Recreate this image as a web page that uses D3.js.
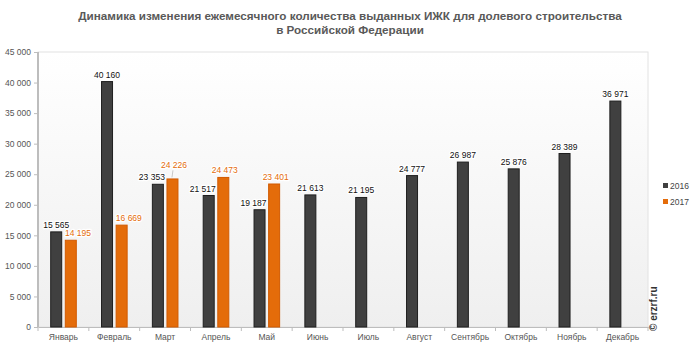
<!DOCTYPE html>
<html>
<head>
<meta charset="utf-8">
<script src="https://cdn.jsdelivr.net/npm/d3@7"></script>
<style>
  html, body { margin: 0; padding: 0; background: #fff; }
  svg { display: block; font-family: "Liberation Sans", Arial, sans-serif; }
</style>
</head>
<body>
<svg id="chart" width="700" height="350"></svg>
<script>
// Monthly number of housing mortgage loans for shared construction
const months = ["Январь", "Февраль", "Март", "Апрель", "Май", "Июнь",
                "Июль", "Август", "Сентябрь", "Октябрь", "Ноябрь", "Декабрь"];
const values2016 = [15565, 40160, 23353, 21517, 19187, 21613, 21195, 24777, 26987, 25876, 28389, 36971];
const values2017 = [14195, 16669, 24226, 24473, 23401];
const seriesNames = ["2016", "2017"];
const yTicks = [0, 5000, 10000, 15000, 20000, 25000, 30000, 35000, 40000, 45000];

const titleLines = ["Динамика изменения ежемесячного количества выданных ИЖК для долевого строительства",
                    "в Российской Федерации"];

const colors = { "2016": "#404040", "2017": "#e46c0a" };
const strokes = { "2016": "#1e1e1e", "2017": "#d25a00" };
const labelColors = { "2016": "#111111", "2017": "#e46c0a" };

const svg = d3.select("#chart");
const margin = { left: 38, right: 52, top: 52, bottom: 23 };
const W = 700, H = 350;
const innerW = W - margin.left - margin.right;
const innerH = H - margin.top - margin.bottom;

const fmt = v => d3.format(",")(v).replace(/,/g, " ");

// Plot background gradient
const defs = svg.append("defs");
const grad = defs.append("linearGradient").attr("id", "bg").attr("x1", 0).attr("y1", 0).attr("x2", 0).attr("y2", 1);
grad.append("stop").attr("offset", "0%").attr("stop-color", "#ffffff");
grad.append("stop").attr("offset", "100%").attr("stop-color", "#efefef");

// Title
svg.append("g").selectAll("text").data(titleLines).join("text")
  .attr("x", 350).attr("y", (d, i) => 20 + i * 14)
  .attr("text-anchor", "middle")
  .attr("font-size", "11.7px").attr("font-weight", "bold").attr("fill", "#595959")
  .text(d => d);

const g = svg.append("g").attr("transform", `translate(${margin.left},${margin.top})`);

const x = d3.scaleBand().domain(months).range([0, innerW]).padding(0);
const y = d3.scaleLinear().domain([0, 45000]).range([innerH, 0]);

g.append("rect").attr("x", 0).attr("y", 0).attr("width", innerW).attr("height", innerH)
  .attr("fill", "url(#bg)").attr("stroke", "#e2e2e2").attr("stroke-width", 1);

// Y axis
const yAxis = g.append("g").call(d3.axisLeft(y).tickValues(yTicks).tickFormat(fmt).tickSize(4).tickPadding(3));
yAxis.select(".domain").attr("stroke", "#bdbdbd").attr("stroke-width", 2).attr("d", `M0,0V${innerH}`);
yAxis.selectAll(".tick line").attr("stroke", "#bdbdbd");
yAxis.selectAll(".tick text").attr("font-size", "8.5px").attr("fill", "#555").attr("font-family", "Liberation Sans, Arial, sans-serif");

// X axis
const xAxis = g.append("g").attr("transform", `translate(0,${innerH})`)
  .call(d3.axisBottom(x).tickSize(0).tickPadding(7));
xAxis.select(".domain").attr("stroke", "#bdbdbd");
xAxis.selectAll(".tick text").attr("font-size", "8.5px").attr("fill", "#555").attr("font-family", "Liberation Sans, Arial, sans-serif");
// boundary ticks between months
g.append("g").selectAll("line").data(d3.range(months.length + 1)).join("line")
  .attr("x1", i => i * x.bandwidth()).attr("x2", i => i * x.bandwidth())
  .attr("y1", innerH).attr("y2", innerH + 4).attr("stroke", "#bdbdbd");

// Bars
const barW = 11;
const offsets = { "2016": 12.7, "2017": 27.3 };
const labelSize = 8.5;
const labelGap = 4;       // baseline distance above the bar top
const minLabelSep = 10;   // minimum vertical distance between paired labels

const series = [
  { name: "2016", values: values2016 },
  { name: "2017", values: values2017 }
];

series.forEach(s => {
  const data = s.values.map((v, i) => ({ month: months[i], value: v, i }));
  g.append("g").selectAll("rect").data(data).join("rect")
    .attr("x", d => x(d.month) + offsets[s.name])
    .attr("y", d => y(d.value))
    .attr("width", barW)
    .attr("height", d => innerH - y(d.value))
    .attr("fill", colors[s.name])
    .attr("stroke", strokes[s.name]).attr("stroke-width", 1);
});

// Data labels, nudged sideways / upward so paired labels don't collide with neighbouring bars
const labelLayer = g.append("g");
months.forEach((m, i) => {
  const a = values2016[i];
  const b = values2017[i];
  const darkX = x(m) + offsets["2016"];
  const orX = x(m) + offsets["2017"];
  const darkY = y(a) - labelGap;

  const darkText = labelLayer.append("text")
    .attr("y", darkY)
    .attr("font-size", labelSize + "px").attr("fill", labelColors["2016"])
    .attr("stroke", "#fff").attr("stroke-width", 2.5).attr("paint-order", "stroke").attr("stroke-linejoin", "round")
    .text(fmt(a));

  if (b !== undefined && b > a) {
    // orange bar is taller: keep the dark label from spilling onto it
    darkText.attr("x", darkX + barW + 1.5).attr("text-anchor", "end");
  } else {
    darkText.attr("x", darkX + barW / 2).attr("text-anchor", "middle");
  }

  if (b === undefined) return;

  let orY = y(b) - labelGap;
  let raised = false;
  if (Math.abs(orY - darkY) < minLabelSep && b > a) {
    orY = darkY - minLabelSep - 2;
    raised = true;
  }
  const orText = labelLayer.append("text")
    .attr("y", orY)
    .attr("font-size", labelSize + "px").attr("fill", labelColors["2017"])
    .attr("stroke", "#fff").attr("stroke-width", 2.5).attr("paint-order", "stroke").attr("stroke-linejoin", "round")
    .text(fmt(b));
  if (b < a) {
    // dark bar is taller: start the label at the orange bar's left edge
    orText.attr("x", orX - 0.3).attr("text-anchor", "start");
  } else {
    orText.attr("x", orX + barW / 2 + 1.5).attr("text-anchor", "middle");
  }
  if (raised) {
    labelLayer.append("line")
      .attr("x1", orX + barW / 2 + 0.5).attr("y1", orY + 2)
      .attr("x2", orX + barW / 2 - 0.5).attr("y2", y(b) - 1.5)
      .attr("stroke", "#bbb").attr("stroke-width", 0.8);
  }
});

// Legend
const legend = svg.append("g").attr("transform", "translate(663,186)");
seriesNames.forEach((n, i) => {
  legend.append("rect").attr("x", 0).attr("y", i * 16 - 3).attr("width", 5).attr("height", 5).attr("fill", colors[n]);
  legend.append("text").attr("x", 7).attr("y", i * 16 + 2.5)
    .attr("font-size", "8.5px").attr("fill", "#444").text(n);
});

// Source mark
svg.append("text")
  .attr("transform", "translate(657,331) rotate(-90)")
  .attr("font-size", "10px").attr("font-weight", "bold").attr("fill", "#333")
  .text("© erzrf.ru");
</script>
</body>
</html>
